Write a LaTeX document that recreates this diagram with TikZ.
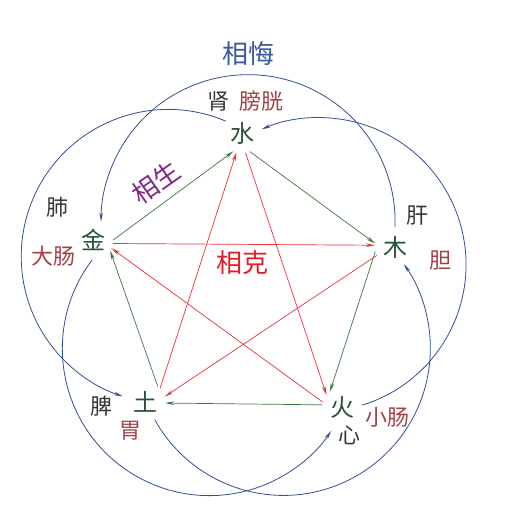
\documentclass[tikz,border=0pt]{standalone}
\usepackage{fontspec}
\setmainfont{Noto Sans CJK SC}
\usetikzlibrary{arrows.meta}
\definecolor{arcblue}{RGB}{50,80,145}
\definecolor{titleblue}{RGB}{55,90,160}
\definecolor{elgreen}{RGB}{40,85,55}
\definecolor{shenggreen}{RGB}{60,120,60}
\definecolor{kered}{RGB}{232,50,55}
\definecolor{kelabel}{RGB}{225,30,40}
\definecolor{orgdark}{RGB}{55,55,55}
\definecolor{orgred}{RGB}{165,65,70}
\definecolor{shengpurple}{RGB}{130,40,135}
\begin{document}
\begin{tikzpicture}[x=1pt,y=1pt,
  el/.style={circle, minimum size=40pt, inner sep=0pt, text=elgreen, font=\fontsize{24}{24}\selectfont},
  zang/.style={inner sep=0pt, text=orgdark, font=\fontsize{22}{22}\selectfont},
  fu/.style={zang, text=orgred},
  title/.style={inner sep=0pt, font=\fontsize{26}{26}\selectfont},
  sheng/.style={draw=shenggreen, line width=0.7pt, -{Stealth[length=9pt,width=3.6pt]}},
  ke/.style={draw=kered, line width=0.7pt, -{Stealth[length=9pt,width=3.6pt]}},
  wu/.style={draw=arcblue, line width=0.8pt, -{Stealth[length=9pt,width=3.6pt]}}]
\useasboundingbox (0,0) rectangle (510,532);
\fill[white] (0,0) rectangle (510,532);
% elements
\node[el] (shui) at (242,399) {水};
\node[el] (mu)   at (395,285) {木};
\node[el] (huo)  at (342,124) {火};
\node[el] (tu)   at (145,130) {土};
\node[el] (jin)  at (93,292)  {金};
% organs
\node[zang] (shen) at (218,431) {肾};
\node[fu]   (pangguang) at (261,431) {膀胱};
\node[zang] (fei) at (57,325) {肺};
\node[fu]   (dachang) at (53,276) {大肠};
\node[zang] (gan) at (417,316) {肝};
\node[fu]   (dan) at (440,271) {胆};
\node[zang] (pi) at (101,126) {脾};
\node[fu]   (wei) at (130,101) {胃};
\node[zang] (xin) at (349,97) {心};
\node[fu]   (xiaochang) at (387,115) {小肠};
% titles
\node[title, text=titleblue] (xianghui) at (248,478) {相悔};
\node[title, text=shengpurple, rotate=35] (xiangsheng) at (156,350) {相生};
\node[title, text=kelabel] (xiangke) at (242,269) {相克};
% generating cycle
\draw[sheng] (jin.0) -- (shui.245);
\draw[sheng] (shui.-67) -- (mu.170);
\draw[sheng] (mu.193) -- (huo.127);
\draw[sheng] (huo.171) -- (tu.-3);
\draw[sheng] (tu.51) -- (jin.-32);
% restraining cycle
\draw[ke] (jin.-10) -- (mu.175);
\draw[ke] (mu.205) -- (tu.15);
\draw[ke] (tu.42) -- (shui.254);
\draw[ke] (shui.-80) -- (huo.140);
\draw[ke] (huo.163) -- (jin.-24);
% counter-restraining arcs
\draw[wu] (mu.north) arc[start angle=-2, end angle=180, radius=147];
\draw[wu] (shui.144) arc[start angle=67, end angle=252, radius=147];
\draw[wu] (huo.8) arc[start angle=-73, end angle=113, radius=147];
\draw[wu] (tu.-61) arc[start angle=209, end angle=395, radius=147];
\draw[wu] (jin.-93) arc[start angle=143, end angle=326, radius=147];
\end{tikzpicture}
\end{document}
